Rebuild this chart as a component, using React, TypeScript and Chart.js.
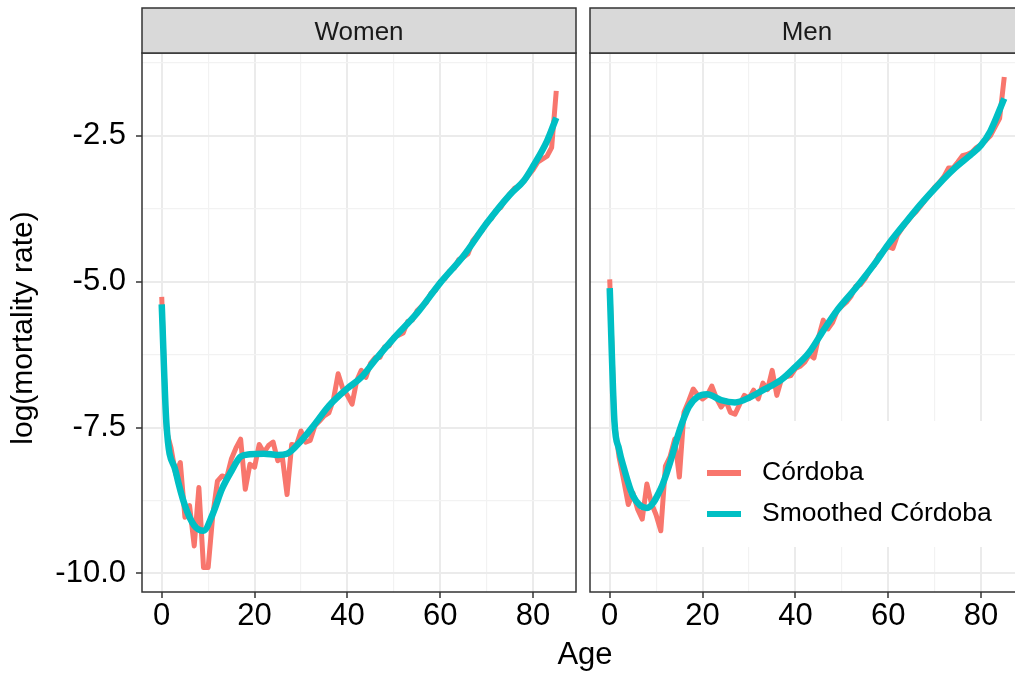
import React, { useEffect, useRef } from "react";
import { Chart, registerables } from "chart.js";

Chart.register(...registerables);

const ages = [
  0, 1, 2, 3, 4, 5, 6, 7, 8, 9, 10, 11, 12, 13, 14, 15, 16, 17, 18, 19, 20, 21, 22, 23, 24, 25, 26, 27, 28, 29,
  30, 31, 32, 33, 34, 35, 36, 37, 38, 39, 40, 41, 42, 43, 44, 45, 46, 47, 48, 49, 50, 51, 52, 53, 54, 55, 56, 57,
  58, 59, 60, 61, 62, 63, 64, 65, 66, 67, 68, 69, 70, 71, 72, 73, 74, 75, 76, 77, 78, 79, 80, 81, 82, 83, 84, 85,
];

const womenObserved = [
  -5.26, -7.55, -7.85, -8.3, -8.1, -9.04, -8.84, -9.53, -8.53, -9.9, -9.9, -9.0, -8.42, -8.33, -8.36, -8.04,
  -7.85, -7.7, -8.56, -8.13, -8.18, -7.79, -7.93, -7.81, -7.75, -8.07, -8.02, -8.65, -7.79, -7.81, -7.56, -7.75,
  -7.72, -7.47, -7.39, -7.3, -7.25, -7.02, -6.58, -6.83, -6.95, -7.1, -6.7, -6.52, -6.64, -6.4, -6.3, -6.3,
  -6.12, -6.1, -5.95, -5.92, -5.88, -5.68, -5.66, -5.5, -5.42, -5.36, -5.2, -5.15, -5.0, -4.95, -4.82, -4.77,
  -4.62, -4.58, -4.52, -4.3, -4.2, -4.13, -3.98, -3.92, -3.78, -3.73, -3.6, -3.5, -3.4, -3.36, -3.28, -3.18,
  -3.08, -2.95, -2.9, -2.85, -2.7, -1.73,
];

const menObserved = [
  -4.96, -7.4, -8.0, -8.4, -8.82, -8.62, -8.9, -9.07, -8.47, -8.8, -9.0, -9.27, -8.16, -8.0, -7.7, -8.35,
  -7.24, -7.05, -6.84, -6.95, -7.01, -6.95, -6.79, -7.0, -7.15, -7.04, -7.24, -7.27, -7.1, -6.95, -7.0, -6.86,
  -7.01, -6.74, -6.85, -6.52, -6.95, -6.67, -6.63, -6.61, -6.49, -6.45, -6.38, -6.25, -6.31, -5.95, -5.66, -5.81,
  -5.7, -5.5, -5.42, -5.35, -5.25, -5.08, -5.05, -4.95, -4.8, -4.72, -4.55, -4.48, -4.4, -4.43, -4.2, -4.08,
  -3.98, -3.88, -3.8, -3.7, -3.6, -3.5, -3.38, -3.3, -3.2, -3.05, -3.05, -2.95, -2.84, -2.82, -2.78, -2.7, -2.65,
  -2.58, -2.5, -2.35, -2.2, -1.49,
];

const womenSmoothAges = [0, 1, 3, 5, 7, 9, 11, 13, 15, 17, 19, 22, 25, 27, 30, 33, 36, 40, 43, 46, 50, 55, 60, 65, 70, 75, 78, 80, 83, 85];
const womenSmoothed = [
  -5.39, -7.42, -8.25, -8.84, -9.18, -9.27, -8.98, -8.55, -8.25, -8.0, -7.96, -7.95, -7.97, -7.95, -7.73, -7.44,
  -7.13, -6.83, -6.64, -6.34, -5.97, -5.54, -5.02, -4.56, -4.0, -3.51, -3.27, -3.02, -2.59, -2.19,
];

const menSmoothAges = [0, 1, 2, 3, 5, 8, 11, 13, 15, 17, 19, 21, 24, 27, 30, 33, 37, 40, 43, 46, 49, 53, 57, 60, 64, 67, 71, 74, 78, 80, 82, 85];
const menSmoothed = [
  -5.11, -7.38, -7.87, -8.18, -8.67, -8.88, -8.55, -8.1, -7.56, -7.15, -6.97, -6.93, -7.03, -7.07, -6.99, -6.86,
  -6.68, -6.46, -6.21, -5.84, -5.49, -5.11, -4.7, -4.36, -3.96, -3.67, -3.32, -3.08, -2.81, -2.66, -2.42, -1.86,
];

const xMajorTicks = [0, 20, 40, 60, 80];
const xMinorTicks = [10, 30, 50, 70];
const yMajorTicks = [-10, -7.5, -5, -2.5];
const yMinorTicks = [-8.75, -6.25, -3.75, -1.25];
const yTickLabels = ["-10.0", "-7.5", "-5.0", "-2.5"];
const panelTitles = ["Women", "Men"];
const legendLabels = ["Córdoba", "Smoothed Córdoba"];
const xTitle = "Age";
const yTitle = "log(mortality rate)";

const RED = "#F8766D";
const TEAL = "#00BFC4";
const FONT = "'Liberation Sans', Arial, Helvetica, sans-serif";

const isMajorX = (v: number) => xMajorTicks.includes(v);
const isMajorY = (v: number) => yMajorTicks.includes(v);

function makeConfig(opts: {
  title: string;
  observed: number[];
  smoothAges: number[];
  smoothed: number[];
  first: boolean;
}): any {
  const { title, observed, smoothAges, smoothed, first } = opts;

  const panelPlugin = {
    id: "panelDeco" + title,
    afterDatasetsDraw(chart: any) {
      if (first) return;
      const ctx = chart.ctx;
      const ca = chart.chartArea;
      ctx.save();
      const boxLeft = ca.left + 100;
      ctx.fillStyle = "#FFFFFF";
      ctx.fillRect(boxLeft, 421, chart.width - boxLeft, 126);
      const rows = [
        { label: legendLabels[0], color: RED, y: 473 },
        { label: legendLabels[1], color: TEAL, y: 514 },
      ];
      ctx.font = `26.5px ${FONT}`;
      ctx.textBaseline = "middle";
      ctx.textAlign = "left";
      for (const r of rows) {
        ctx.strokeStyle = r.color;
        ctx.lineWidth = 6;
        ctx.lineCap = "butt";
        ctx.beginPath();
        ctx.moveTo(boxLeft + 17, r.y);
        ctx.lineTo(boxLeft + 51, r.y);
        ctx.stroke();
        ctx.fillStyle = "#000000";
        ctx.fillText(r.label, boxLeft + 72, r.y);
      }
      ctx.restore();
    },
    afterDraw(chart: any) {
      const ctx = chart.ctx;
      const ca = chart.chartArea;
      ctx.save();
      ctx.strokeStyle = "#333333";
      ctx.lineWidth = 1.5;
      ctx.strokeRect(ca.left, ca.top, ca.right - ca.left, ca.bottom - ca.top);
      const stripTop = 8;
      ctx.fillStyle = "#D9D9D9";
      ctx.fillRect(ca.left, stripTop, ca.right - ca.left, ca.top - stripTop);
      ctx.strokeRect(ca.left, stripTop, ca.right - ca.left, ca.top - stripTop);
      ctx.fillStyle = "#1A1A1A";
      ctx.font = `26px ${FONT}`;
      ctx.textAlign = "center";
      ctx.textBaseline = "middle";
      ctx.fillText(title, (ca.left + ca.right) / 2, (stripTop + ca.top) / 2 + 2);
      if (first) {
        ctx.save();
        ctx.translate(24, 328);
        ctx.rotate(-Math.PI / 2);
        ctx.fillStyle = "#000000";
        ctx.font = `30px ${FONT}`;
        ctx.textAlign = "center";
        ctx.textBaseline = "middle";
        ctx.fillText(yTitle, 0, 0);
        ctx.restore();
        ctx.fillStyle = "#000000";
        ctx.font = `31px ${FONT}`;
        ctx.textAlign = "center";
        ctx.textBaseline = "alphabetic";
        ctx.fillText(xTitle, 585, 664);
      }
      ctx.restore();
    },
  };

  return {
    type: "line",
    data: {
      datasets: [
        {
          label: legendLabels[0],
          data: ages.map((a, i) => ({ x: a, y: observed[i] })),
          borderColor: RED,
          borderWidth: 5,
          pointRadius: 0,
          tension: 0,
          order: 2,
          borderJoinStyle: "round",
          borderCapStyle: "butt",
        },
        {
          label: legendLabels[1],
          data: smoothAges.map((a, i) => ({ x: a, y: smoothed[i] })),
          borderColor: TEAL,
          borderWidth: 6.5,
          pointRadius: 0,
          order: 1,
          cubicInterpolationMode: "monotone",
          borderJoinStyle: "round",
          borderCapStyle: "butt",
        },
      ],
    },
    options: {
      animation: false,
      responsive: false,
      events: [],
      layout: {
        padding: first
          ? { left: 0, top: 53, right: 1015 - 576, bottom: 0 }
          : { left: 10, top: 53, right: 6, bottom: 0 },
      },
      plugins: {
        legend: { display: false },
        tooltip: { enabled: false },
        title: { display: false },
      },
      scales: {
        x: {
          type: "linear",
          min: -4.25,
          max: 89.25,
          afterBuildTicks: (scale: any) => {
            scale.ticks = [...xMajorTicks, ...xMinorTicks].sort((a, b) => a - b).map((v) => ({ value: v }));
          },
          afterFit: (scale: any) => {
            scale.height = 83;
          },
          border: { display: false },
          grid: {
            color: (c: any) => (c.tick && isMajorX(c.tick.value) ? "#EBEBEB" : "#F2F2F2"),
            lineWidth: (c: any) => (c.tick && isMajorX(c.tick.value) ? 2 : 1.2),
            tickColor: (c: any) => (c.tick && isMajorX(c.tick.value) ? "#333333" : "rgba(0,0,0,0)"),
            tickWidth: 1.5,
            tickLength: 6,
            drawTicks: true,
          },
          ticks: {
            autoSkip: false,
            maxRotation: 0,
            minRotation: 0,
            padding: 0,
            color: "#000000",
            font: { family: FONT, size: 31 },
            callback: (v: number) => (isMajorX(v) ? String(v) : ""),
          },
        },
        y: {
          type: "linear",
          min: -10.32,
          max: -1.08,
          afterBuildTicks: (scale: any) => {
            scale.ticks = [...yMajorTicks, ...yMinorTicks].sort((a, b) => a - b).map((v) => ({ value: v }));
          },
          afterFit: (scale: any) => {
            scale.width = first ? 142 : 0;
          },
          border: { display: false },
          grid: {
            color: (c: any) => (c.tick && isMajorY(c.tick.value) ? "#EBEBEB" : "#F2F2F2"),
            lineWidth: (c: any) => (c.tick && isMajorY(c.tick.value) ? 2 : 1.2),
            tickColor: (c: any) => (c.tick && isMajorY(c.tick.value) ? "#333333" : "rgba(0,0,0,0)"),
            tickWidth: 1.5,
            tickLength: 6,
            drawTicks: first,
          },
          ticks: {
            display: first,
            autoSkip: false,
            padding: 10,
            color: "#000000",
            font: { family: FONT, size: 31 },
            callback: (v: number) => {
              const idx = yMajorTicks.indexOf(v);
              return idx >= 0 ? yTickLabels[idx] : "";
            },
          },
        },
      },
    },
    plugins: [panelPlugin],
  };
}

export default function App() {
  const womenRef = useRef<HTMLCanvasElement | null>(null);
  const menRef = useRef<HTMLCanvasElement | null>(null);

  useEffect(() => {
    const charts: Chart[] = [];
    if (womenRef.current) {
      charts.push(
        new Chart(
          womenRef.current,
          makeConfig({
            title: panelTitles[0],
            observed: womenObserved,
            smoothAges: womenSmoothAges,
            smoothed: womenSmoothed,
            first: true,
          })
        )
      );
    }
    if (menRef.current) {
      charts.push(
        new Chart(
          menRef.current,
          makeConfig({
            title: panelTitles[1],
            observed: menObserved,
            smoothAges: menSmoothAges,
            smoothed: menSmoothed,
            first: false,
          })
        )
      );
    }
    return () => charts.forEach((c) => c.destroy());
  }, []);

  return (
    <div
      style={{
        position: "fixed",
        left: 0,
        top: 0,
        width: 1015,
        height: 675,
        overflow: "hidden",
        background: "#FFFFFF",
      }}
    >
      <canvas
        ref={womenRef}
        width={1015}
        height={675}
        style={{ position: "absolute", left: 0, top: 0, width: 1015, height: 675, display: "block" }}
      />
      <canvas
        ref={menRef}
        width={450}
        height={675}
        style={{ position: "absolute", left: 580, top: 0, width: 450, height: 675, display: "block" }}
      />
    </div>
  );
}
